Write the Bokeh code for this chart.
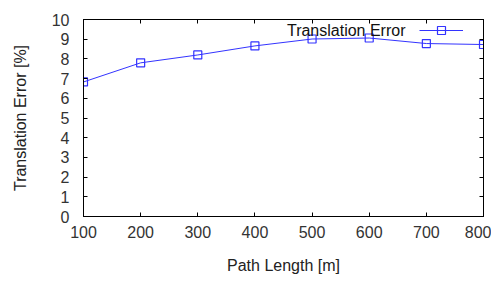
from bokeh.plotting import figure
from bokeh.models import (LinearAxis, Range1d, FixedTicker, Legend, LegendItem, Label)
from bokeh.embed import file_html
from bokeh.resources import INLINE

path_length = [100, 200, 300, 400, 500, 600, 700, 800]
translation_error = [6.83, 7.8, 8.2, 8.66, 9.01, 9.06, 8.78, 8.73]
x_ticks = [100, 200, 300, 400, 500, 600, 700, 800]
y_ticks = [0, 1, 2, 3, 4, 5, 6, 7, 8, 9, 10]

FONT = "Liberation Sans"
BLUE = "#3333ff"

p = figure(width=491, height=276, output_backend="svg", toolbar_location=None,
           x_range=Range1d(100, 800), y_range=Range1d(0, 10),
           min_border_left=83, min_border_right=8, min_border_top=19, min_border_bottom=58)
p.grid.visible = False
p.outline_line_color = "black"
p.outline_line_width = 1
p.background_fill_color = "white"
p.border_fill_color = "white"

for ax in (p.xaxis[0], p.yaxis[0]):
    ax.major_tick_in = 4
    ax.major_tick_out = 0
    ax.minor_tick_line_color = None
    ax.axis_line_color = "black"
    ax.major_label_text_font = FONT
    ax.major_label_text_font_size = "16px"
    ax.major_label_text_color = "#333333"
    ax.axis_label_text_font = FONT
    ax.axis_label_text_font_size = "16px"
    ax.axis_label_text_font_style = "normal"
    ax.axis_label_text_color = "#222222"

p.xaxis[0].ticker = FixedTicker(ticks=x_ticks)
p.yaxis[0].ticker = FixedTicker(ticks=y_ticks)
p.xaxis[0].axis_label = "Path Length [m]"
p.yaxis[0].axis_label = "Translation Error [%]"
p.xaxis[0].major_label_standoff = 9
p.yaxis[0].major_label_standoff = 14
p.xaxis[0].axis_label_standoff = 16
p.yaxis[0].axis_label_standoff = 20

right_ax = LinearAxis(ticker=FixedTicker(ticks=y_ticks), major_label_text_font_size="0px",
                      major_tick_in=4, major_tick_out=0, minor_tick_line_color=None,
                      major_label_text_color=None)
top_ax = LinearAxis(ticker=FixedTicker(ticks=x_ticks), major_label_text_font_size="0px",
                    major_tick_in=4, major_tick_out=0, minor_tick_line_color=None,
                    major_label_text_color=None)
p.add_layout(right_ax, "right")
p.add_layout(top_ax, "above")
p.min_border_right = 8
p.min_border_top = 19

ln = p.line(path_length, translation_error, line_color=BLUE, line_width=1)
sc = p.scatter(path_length, translation_error, marker="square", size=8,
               line_color=BLUE, fill_color=None, line_width=1.2)

legend = Legend(items=[LegendItem(label=" ", renderers=[ln, sc])],
                location=(336, 176), glyph_width=44, glyph_height=20,
                border_line_color=None, background_fill_alpha=0,
                label_text_font_size="1px", padding=0, spacing=0, margin=0,
                label_width=0, label_standoff=0)
p.add_layout(legend, "center")

lab = Label(x=322, y=186, x_units="screen", y_units="screen", text="Translation Error",
            text_align="right", text_baseline="middle", text_font=FONT,
            text_font_size="16px", text_color="#111111")
p.add_layout(lab)

open("out.html", "w").write(file_html(p, INLINE))
